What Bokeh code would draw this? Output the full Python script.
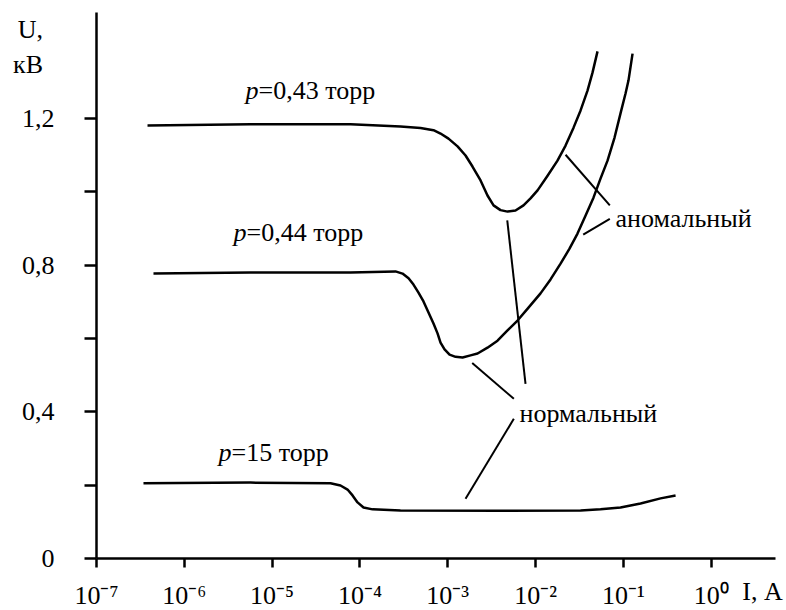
import numpy as np
from bokeh.plotting import figure
from bokeh.models import Range1d, FixedTicker, Label, CustomJSTickFormatter, LinearAxis
from bokeh.embed import file_html
from bokeh.resources import INLINE

# ---------------- data ----------------
# current as log10(I / A), voltage U in kV
logI_043 = [-6.419, -5.246, -4.107, -3.538, -3.310, -3.162, -3.082, -2.991, -2.888, -2.797,
            -2.718, -2.626, -2.547, -2.478, -2.399, -2.319, -2.228, -2.137, -2.057, -1.977,
            -1.863, -1.750, -1.658, -1.567, -1.487, -1.408, -1.351, -1.294]
U_043 = [1.181, 1.184, 1.184, 1.178, 1.174, 1.168, 1.159, 1.145, 1.124, 1.099,
         1.069, 1.031, 0.990, 0.963, 0.950, 0.946, 0.949, 0.963, 0.982, 1.004,
         1.044, 1.085, 1.126, 1.175, 1.222, 1.276, 1.325, 1.383]

logI_044 = [-6.351, -5.246, -4.107, -3.595, -3.515, -3.446, -3.390, -3.333, -3.276, -3.219,
            -3.162, -3.116, -3.082, -3.036, -2.979, -2.911, -2.831, -2.740, -2.660, -2.547,
            -2.433, -2.319, -2.205, -2.080, -1.943, -1.829, -1.715, -1.613, -1.522, -1.431,
            -1.340, -1.260, -1.180, -1.100, -1.032, -0.975, -0.941, -0.895]
U_044 = [0.777, 0.780, 0.780, 0.783, 0.777, 0.764, 0.747, 0.725, 0.701, 0.671,
         0.641, 0.614, 0.589, 0.570, 0.556, 0.550, 0.548, 0.554, 0.559, 0.575,
         0.594, 0.622, 0.649, 0.684, 0.723, 0.761, 0.804, 0.845, 0.886, 0.935,
         0.984, 1.036, 1.085, 1.148, 1.214, 1.268, 1.304, 1.377]

logI_15 = [-6.465, -5.246, -4.335, -4.221, -4.141, -4.084, -4.027, -3.959, -3.856, -3.538,
           -2.399, -1.487, -1.260, -1.032, -0.804, -0.576, -0.405]
U_15 = [0.205, 0.207, 0.205, 0.199, 0.188, 0.172, 0.153, 0.139, 0.134, 0.131,
        0.130, 0.131, 0.134, 0.139, 0.150, 0.164, 0.172]

# leader lines (log10 I, U) start -> end
lead_x0 = [-1.658, -1.457, -2.322, -2.721, -2.247]
lead_y0 = [1.101, 0.883, 0.922, 0.533, 0.381]
lead_x1 = [-1.154, -1.154, -2.114, -2.247, -2.797]
lead_y1 = [0.963, 0.926, 0.476, 0.4355, 0.163]

# curve captions: pressure text, anchor (log10 I, U)
cap_text = ["=0,43 торр", "=0,44 торр", "=15 торр"]
cap_logI = [-5.303, -5.440, -5.610]
cap_U = [1.276, 0.889, 0.290]

# regime captions
reg_text = ["аномальный", "нормальный"]
reg_logI = [-1.089, -2.182]
reg_U = [0.927, 0.395]

x_tick_exp = [-7, -6, -5, -4, -3, -2, -1, 0]
u_ticks = [0.0, 0.2, 0.4, 0.6, 0.8, 1.0, 1.2]
u_tick_labels = ["0", "", "0,4", "", "0,8", "", "1,2"]
NB = "\u00a0"
x_title = "I, А" + NB * 4
y_title = NB + "\n" + NB + "\nU,\nкВ"

X_MIN_EXP, X_MAX_EXP = -7, 0.733
U_MIN, U_MAX = 0.0, 1.489

FONT = "Liberation Serif"
FS = "26px"

SUP = str.maketrans("-0123456789", "⁻⁰¹²³⁴⁵⁶⁷⁸⁹")
x_tick_vals = [10.0 ** e for e in x_tick_exp]
x_tick_labels = ["10" + str(e).translate(SUP) for e in x_tick_exp]

# ---------------- figure ----------------
p = figure(width=786, height=610, x_axis_type="log",
           x_range=Range1d(10 ** X_MIN_EXP, 10 ** X_MAX_EXP),
           y_range=Range1d(U_MIN, U_MAX),
           output_backend="svg", toolbar_location=None, title_location=None,
           min_border_left=96, min_border_top=12, min_border_right=11, min_border_bottom=52)
p.outline_line_color = None
p.grid.visible = False
p.background_fill_color = "white"
p.border_fill_color = "white"

for ax in (p.xaxis, p.yaxis):
    ax.axis_line_width = 2.5
    ax.axis_line_color = "black"
    ax.major_tick_line_width = 2.5
    ax.major_tick_line_color = "black"
    ax.minor_tick_line_color = None
    ax.major_tick_in = 0
    ax.major_label_text_font = FONT
    ax.major_label_text_font_size = FS
    ax.major_label_text_color = "black"
    ax.axis_label_text_font = FONT
    ax.axis_label_text_font_size = FS
    ax.axis_label_text_font_style = "normal"
    ax.axis_label_text_color = "black"

fmt_code = "const i = tv.findIndex(t => Math.abs(t - tick) < 1e-9 * Math.max(1, Math.abs(t))); return i < 0 ? '' : tl[i];"

p.xaxis.ticker = FixedTicker(ticks=x_tick_vals)
p.xaxis.formatter = CustomJSTickFormatter(args=dict(tv=x_tick_vals, tl=x_tick_labels), code=fmt_code)
p.xaxis.major_tick_out = 9
p.xaxis.major_label_standoff = 13

p.yaxis.ticker = FixedTicker(ticks=u_ticks)
p.yaxis.formatter = CustomJSTickFormatter(args=dict(tv=u_ticks, tl=u_tick_labels), code=fmt_code)
p.yaxis.major_tick_out = 12
p.yaxis.major_label_standoff = 30

has_align = "axis_label_align" in LinearAxis.properties()

p.xaxis.axis_label = x_title
p.xaxis.axis_label_standoff = -36
p.yaxis.axis_label = y_title
p.yaxis.axis_label_orientation = "horizontal"
p.yaxis.axis_label_standoff = -24
if has_align:
    for ax in (p.xaxis[0], p.yaxis[0]):
        for o in ("end", "right"):
            try:
                ax.axis_label_align = o
                break
            except Exception:
                pass

# curves
for lx, uy in ((logI_043, U_043), (logI_044, U_044), (logI_15, U_15)):
    p.line(10.0 ** np.array(lx), uy, line_color="black", line_width=2.5, line_join="round")

# leader lines
p.segment(10.0 ** np.array(lead_x0), lead_y0, 10.0 ** np.array(lead_x1), lead_y1,
          line_color="black", line_width=2)


def lab(x, y, text, xo=0, yo=0, style="normal"):
    p.add_layout(Label(x=x, y=y, x_offset=xo, y_offset=yo, text=text,
                       text_font=FONT, text_font_size=FS, text_font_style=style,
                       text_color="black", text_align="left", text_baseline="alphabetic"))


for t, lx, uy in zip(cap_text, cap_logI, cap_U):
    lab(10.0 ** lx, uy, "p", style="italic")
    lab(10.0 ** lx, uy, t, xo=13)

for t, lx, uy in zip(reg_text, reg_logI, reg_U):
    lab(10.0 ** lx, uy, t)

open("out.html", "w").write(file_html(p, INLINE))
